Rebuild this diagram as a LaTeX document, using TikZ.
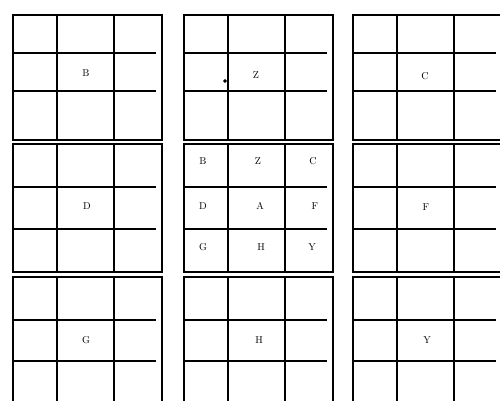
\documentclass[tikz,border=0pt]{standalone}
\usepackage{tikz}

\tikzset{
  gridline/.style={line width=1.6pt, black},
  lbl/.style={font=\normalsize, inner sep=0pt},
}

\begin{document}
\begin{tikzpicture}[x=1pt, y=-1pt]
			\useasboundingbox (0,0) rectangle (500,401);
			% nine 3x3 boxes
			\foreach \xa in {13,184,353} {
				\foreach \ya/\yb/\yc/\yd in {15/53/91/140, 144/187/229/272, 277/320/361/405} {
					\draw[gridline] (\xa,\ya) rectangle (\xa+149,\yd);
					\draw[gridline] (\xa+44,\ya) -- (\xa+44,\yd);
					\draw[gridline] (\xa+101,\ya) -- (\xa+101,\yd);
					\draw[gridline] (\xa,\yb) -- (\xa+143,\yb);
					\draw[gridline] (\xa,\yc) -- (\xa+143,\yc);
				}
			}
			% outer boxes
			\node[lbl] (tb) at (86,73) {B};
			\node[lbl] (tz) at (256,75) {Z};
			\node[lbl] (tc) at (425,76) {C};
			\node[lbl] (md) at (87,206) {D};
			\node[lbl] (mf) at (426,207) {F};
			\node[lbl] (bg) at (86,340) {G};
			\node[lbl] (bh) at (259,340) {H};
			\node[lbl] (by) at (427,340) {Y};
			% centre box
			\node[lbl] (cb) at (203,161) {B};
			\node[lbl] (cz) at (258,161) {Z};
			\node[lbl] (cc) at (313,161) {C};
			\node[lbl] (cd) at (203,206) {D};
			\node[lbl] (ca) at (260,206) {A};
			\node[lbl] (cf) at (315,206) {F};
			\node[lbl] (cg) at (203,247) {G};
			\node[lbl] (ch) at (261,247) {H};
			\node[lbl] (cy) at (312,247) {Y};
			\filldraw (225,81) circle (1.6pt);
	\end{tikzpicture}
\end{document}
